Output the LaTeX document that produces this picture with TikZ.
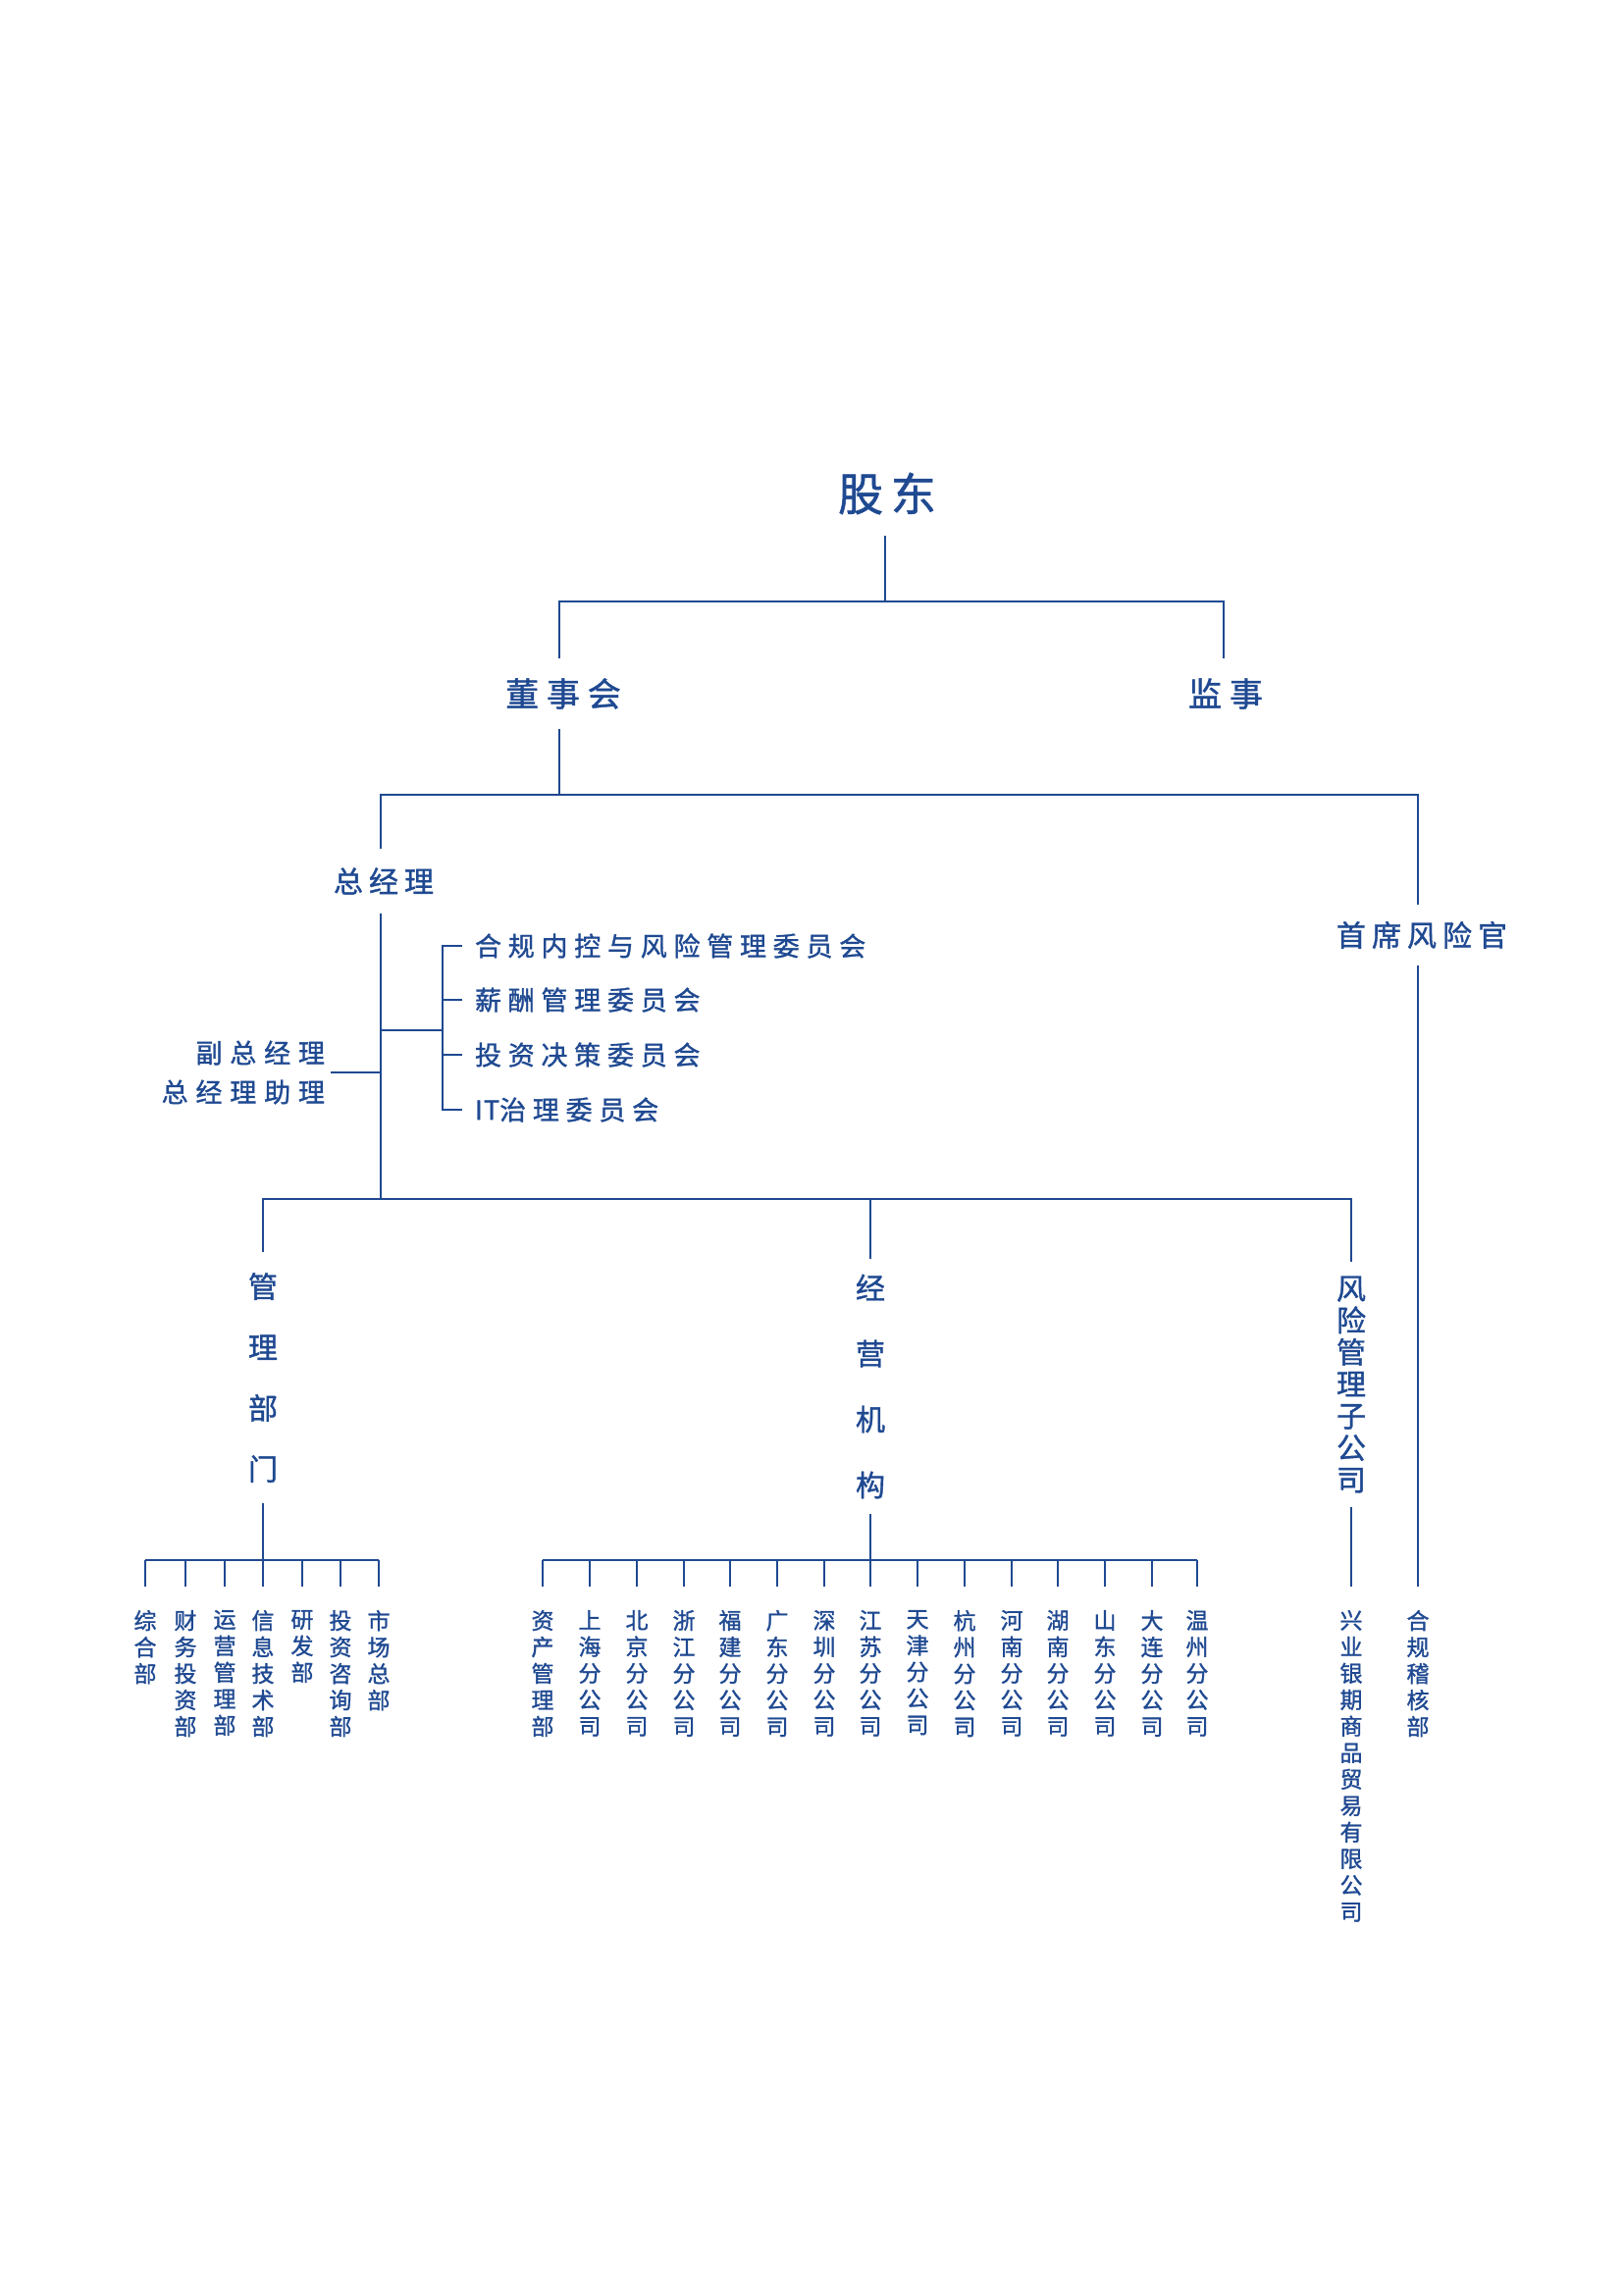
\documentclass[tikz,border=0pt]{standalone}
\usepackage{fontspec}
\setmainfont{Noto Sans CJK SC}[FakeBold=1.2]
\usetikzlibrary{calc}
\definecolor{xyblue}{RGB}{31,73,145}

\tikzset{
  unit/.style={inner sep=0pt, outer sep=0pt, text=xyblue},
  head/.style={unit, font=\fontsize{46}{50}\selectfont\addfontfeature{LetterSpace=17}},
  board/.style={unit, font=\fontsize{34}{40}\selectfont\addfontfeature{LetterSpace=23}},
  exec/.style={unit, font=\fontsize{30}{36}\selectfont\addfontfeature{LetterSpace=20}},
  cmte/.style={unit, anchor=west, outer xsep=13pt, font=\fontsize{27}{33}\selectfont\addfontfeature{LetterSpace=25}},
  column/.style={unit, align=center, font=\fontsize{30}{#1}\selectfont},
  leaf/.style={unit, anchor=north, outer ysep=24pt, align=center, font=\fontsize{23}{27}\selectfont},
  link/.style={draw=xyblue, line width=2pt},
}

\newcommand*{\LeafRow}[2]{% #1 = bus coordinate, #2 = list of x/name/text
  \foreach \x/\nm/\txt in {#2} {
    \node [leaf] (\nm) at (\x,1617) {\txt};
    \draw [link] (\nm.north) -- (\nm.north |- #1);
  }%
}

\begin{document}
\begin{tikzpicture}[x=1pt, y=-1pt]
  \useasboundingbox (0,0) rectangle (1654,2339);

  % shareholders, board, supervisor
  \node [head, outer ysep=22pt] (gudong) at (904,503) {股东};
  \node [board, outer ysep=20pt] (dongshi) at (574,707) {董事会};
  \node [board, outer ysep=20pt] (jianshi) at (1249,707) {监事};
  \coordinate (b0) at (902,613);
  \draw [link] (gudong.south -| b0) -- (b0);
  \draw [link] (dongshi.north -| 570,0) |- (b0) -| (jianshi.north -| 1247,0);

  % general manager and chief risk officer
  \node [exec, outer ysep=19pt] (zjl) at (391,898) {总经理};
  \node [exec, outer ysep=17pt] (cro) at (1449,953) {首席风险官};
  \coordinate (b1) at (570,810);
  \draw [link] (dongshi.south -| b1) -- (b1);
  \draw [link] (zjl.north -| 388,0) |- (b1) -| (cro.north -| 1445,0);

  % committees
  \node [cmte] (c1) at (471,964) {合规内控与风险管理委员会};
  \node [cmte] (c2) at (471,1019) {薪酬管理委员会};
  \node [cmte] (c3) at (471,1075) {投资决策委员会};
  \node [cmte] (c4) at (471,1131) {{\addfontfeature{LetterSpace=4}IT}治理委员会};
  \coordinate (brk) at (451,1050);
  \draw [link] (388,1050) -- (brk);
  \draw [link] (c1.west) -- (brk |- c1) -- (brk |- c4) -- (c4.west);
  \draw [link] (c2.west) -- (brk |- c2);
  \draw [link] (c3.west) -- (brk |- c3);

  \node [unit, anchor=east, align=right, outer xsep=6pt,
    font=\fontsize{27}{40}\selectfont\addfontfeature{LetterSpace=29}] (fzjl) at (337,1093) {副总经理\\总经理助理};
  \draw [link] (fzjl.east) -- (388,1093);

  % second row
  \node [column=62, outer ysep=21pt] (guanli) at (268,1404) {管\\理\\部\\门};
  \node [column=67, outer ysep=16pt] (jingying) at (887,1413) {经\\营\\机\\构};
  \node [column=32.5, outer ysep=15pt] (fxgl) at (1377,1411) {风\\险\\管\\理\\子\\公\\司};
  \coordinate (b2) at (388,1222);
  \draw [link] (zjl.south -| b2) -- (b2);
  \draw [link] (guanli.north) |- (b2) -| (fxgl.north);
  \draw [link] (jingying.north) -- (jingying.north |- b2);

  % departments
  \coordinate (b3) at (268,1590);
  \draw [link] (guanli.south) -- (b3);
  \LeafRow{b3}{148/zhb/{综\\合\\部},
    189/cwtz/{财\\务\\投\\资\\部},
    229/yygl/{运\\营\\管\\理\\部},
    268/xxjs/{信\\息\\技\\术\\部},
    308/yfb/{研\\发\\部},
    347/tzzx/{投\\资\\咨\\询\\部},
    386/sczb/{市\\场\\总\\部}}
  \draw [link] (zhb.north |- b3) -- (sczb.north |- b3);

  % branches
  \coordinate (b4) at (887,1590);
  \draw [link] (jingying.south) -- (b4);
  \LeafRow{b4}{553/zcgl/{资\\产\\管\\理\\部},
    601/sh/{上\\海\\分\\公\\司},
    649/bj/{北\\京\\分\\公\\司},
    697/zj/{浙\\江\\分\\公\\司},
    744/fj/{福\\建\\分\\公\\司},
    792/gd/{广\\东\\分\\公\\司},
    840/sz/{深\\圳\\分\\公\\司},
    887/js/{江\\苏\\分\\公\\司},
    935/tj/{天\\津\\分\\公\\司},
    983/hz/{杭\\州\\分\\公\\司},
    1031/hen/{河\\南\\分\\公\\司},
    1078/hun/{湖\\南\\分\\公\\司},
    1126/sd/{山\\东\\分\\公\\司},
    1174/dl/{大\\连\\分\\公\\司},
    1220/wz/{温\\州\\分\\公\\司}}
  \draw [link] (zcgl.north |- b4) -- (wz.north |- b4);

  % risk subsidiary and audit
  \node [leaf] (xyyq) at (1377,1617) {兴\\业\\银\\期\\商\\品\\贸\\易\\有\\限\\公\\司};
  \node [leaf] (hgjh) at (1445,1617) {合\\规\\稽\\核\\部};
  \draw [link] (fxgl.south) -- (xyyq.north);
  \draw [link] (cro.south -| hgjh.north) -- (hgjh.north);
\end{tikzpicture}
\end{document}
